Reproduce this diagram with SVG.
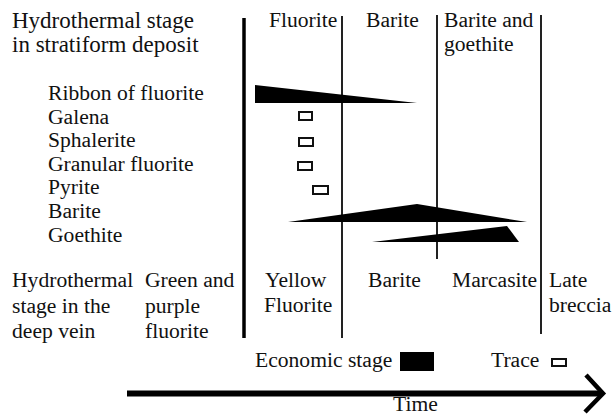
<svg xmlns="http://www.w3.org/2000/svg" width="616" height="416" viewBox="0 0 616 416">
<style>
text{font-family:"Liberation Serif","Times New Roman",serif;font-size:21.6px;fill:#111}
.big{font-size:23px}
.thin{stroke:#222;stroke-width:2;fill:none}
.thick{stroke:#000;stroke-width:3.5;fill:none}
.trace{fill:#fff;stroke:#111;stroke-width:2}
.eco{fill:#000}
</style>
<rect width="616" height="416" fill="#fff"/>
<g id="stage-lines">
<line class="thick" x1="244" y1="18" x2="244" y2="338"/>
<line class="thin" x1="342" y1="16" x2="342" y2="338"/>
<line class="thin" x1="437" y1="15" x2="437" y2="259"/>
<line class="thin" x1="541" y1="15" x2="541" y2="334"/>
</g>
<g id="header-stratiform">
<text class="big" x="12" y="28">Hydrothermal stage</text>
<text class="big" x="12" y="52">in stratiform deposit</text>
<text x="269" y="27">Fluorite</text>
<text x="366" y="27">Barite</text>
<text x="444" y="27">Barite and</text>
<text x="444" y="51">goethite</text>
</g>
<g id="minerals">
<text x="48" y="100">Ribbon of fluorite</text>
<text x="48" y="124">Galena</text>
<text x="48" y="147">Sphalerite</text>
<text x="48" y="171">Granular fluorite</text>
<text x="48" y="194">Pyrite</text>
<text x="48" y="218">Barite</text>
<text x="48" y="242">Goethite</text>
</g>
<g id="bars">
<polygon class="eco" points="255,85 417,103 255,103"/>
<rect class="trace" x="299" y="112" width="13" height="8"/>
<rect class="trace" x="299" y="138" width="14" height="8"/>
<rect class="trace" x="298" y="162" width="14" height="8"/>
<rect class="trace" x="313" y="186" width="15" height="8"/>
<polygon class="eco" points="288,222 417,204 527,222"/>
<polygon class="eco" points="372,242 507,226 519,242"/>
</g>
<g id="header-vein">
<text x="12" y="287">Hydrothermal</text>
<text x="12" y="313">stage in the</text>
<text x="12" y="338">deep vein</text>
<text x="145" y="287">Green and</text>
<text x="145" y="313">purple</text>
<text x="145" y="338">fluorite</text>
<text x="265" y="287">Yellow</text>
<text x="264" y="312">Fluorite</text>
<text x="368" y="287">Barite</text>
<text x="452" y="287">Marcasite</text>
<text x="549" y="287">Late</text>
<text x="549" y="312">breccia</text>
</g>
<g id="legend">
<text x="255" y="367">Economic stage</text>
<rect class="eco" x="400" y="352" width="34" height="19"/>
<text x="491" y="367">Trace</text>
<rect class="trace" x="552" y="359" width="14" height="7"/>
</g>
<g id="time-arrow">
<line x1="127" y1="393.5" x2="601" y2="393.5" stroke="#000" stroke-width="6"/>
<polyline points="586,375 603,393.5 585,412" fill="none" stroke="#000" stroke-width="4.5"/>
<text x="393" y="410.5">Time</text>
</g>
</svg>
